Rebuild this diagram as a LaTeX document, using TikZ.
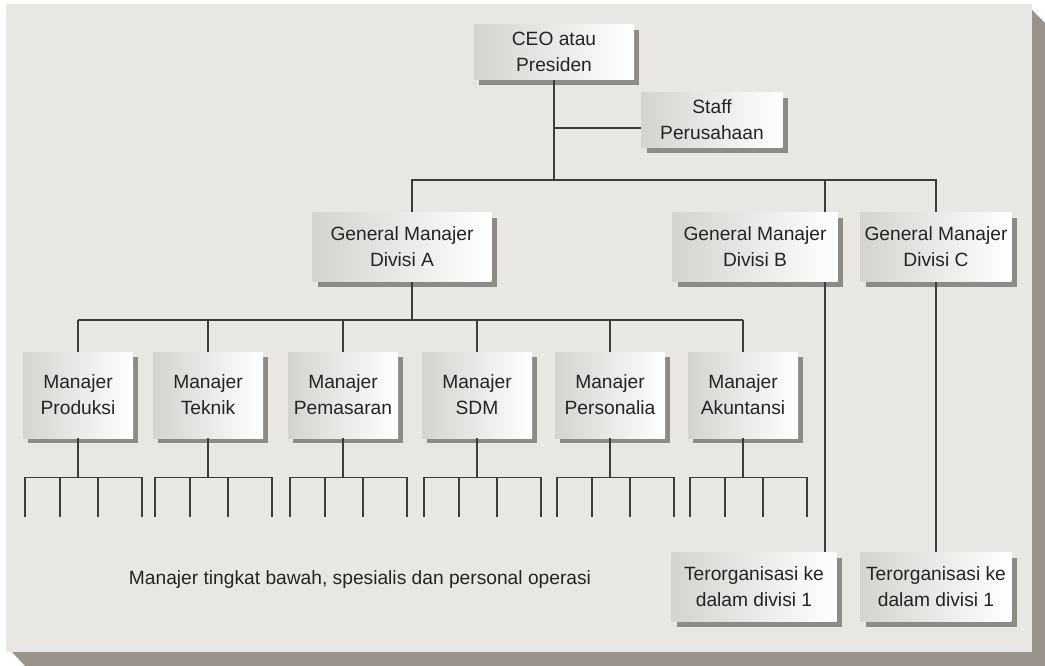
\documentclass[tikz,border=0pt]{standalone}
\usepackage{fontspec}
\setmainfont{Liberation Sans}
\usetikzlibrary{shadows}
\definecolor{panel}{HTML}{E9E7E3}
\definecolor{panelshadow}{HTML}{99938B}
\definecolor{boxshadow}{HTML}{8E8A85}
\definecolor{boxleft}{HTML}{D5D3CF}
\definecolor{ink}{HTML}{242424}
\definecolor{wirecol}{HTML}{3C3C3C}
\newcommand{\orgfont}{\fontsize{14.4}{19.5}\selectfont}

\begin{document}
\begin{tikzpicture}[x=0.75pt, y=-0.75pt,
    box/.style={left color=boxleft, right color=white, text=ink, align=center, inner sep=0pt,
      font=\orgfont, general shadow={fill=boxshadow, shadow xshift=4pt, shadow yshift=-4pt}},
    mgr/.style={box, minimum width=82.5pt, minimum height=64.5pt},
    gm/.style={box, minimum height=52pt},
    wire/.style={draw=wirecol, line width=0.8pt}]
  % panel and its shadow
  \useasboundingbox (0,0) rectangle (1045,666);
  \fill[white] (0,0) rectangle (1045,666);
  \fill[panelshadow] (1032,10) -- (1045,23) -- (1045,666) -- (25,666) -- (12,652) -- (1032,652) -- cycle;
  \fill[panel] (6,4) rectangle (1032,652);

  % top level
  \node[box, minimum width=120pt, minimum height=41pt] (ceo) at (554,52) {CEO atau\\Presiden};
  \node[box, minimum width=106pt, minimum height=41pt] (staff) at (712,120) {Staff\\Perusahaan};
  \node[gm, minimum width=134pt] (gma) at (402,247) {General Manajer\\Divisi A};
  \node[gm, minimum width=124pt] (gmb) at (755,247) {General Manajer\\Divisi B};
  \node[gm, minimum width=113pt] (gmc) at (936,247) {General Manajer\\Divisi C};
  \node[gm, minimum width=124pt] (orgb) at (754,587) {Terorganisasi ke\\dalam divisi 1};
  \node[gm, minimum width=113pt] (orgc) at (936,587) {Terorganisasi ke\\dalam divisi 1};

  \coordinate (stafftap) at (554,128);
  \coordinate (busA) at (412,180);
  \coordinate (busB) at (825,180);
  \coordinate (busC) at (936,180);
  \coordinate (busmgr) at (0,320);

  \draw[wire] (ceo.south) -- (ceo.south |- busA);
  \draw[wire] (stafftap) -- (stafftap -| staff.west);
  \draw[wire] (busA |- gma.north) -- (busA) -- (busC) -- (gmc.north);
  \draw[wire] (busB) -- (busB |- gmb.north);
  \draw[wire] (busB |- gmb.south) -- (busB |- orgb.north);
  \draw[wire] (gmc.south) -- (orgc.north);
  \draw[wire] (busA |- gma.south) -- (busA |- busmgr);

  % managers of division A
  \foreach \name/\cx/\txt in {prod/78/Produksi, tek/208/Teknik, pem/343/Pemasaran,
      sdm/477/SDM, pers/610/Personalia, akun/743/Akuntansi} {
    \node[mgr] (\name) at (\cx,395) {Manajer\\\txt};
    \draw[wire] (\name.north) -- (\name.north |- busmgr);
    \draw[wire] (\name.south) -- ++(0,39) coordinate (\name-f);
    \draw[wire] (\name-f) ++(-53,0) -- ++(117,0);
    \foreach \dx in {-53,-18,20,64}
      \draw[wire] (\name-f) ++(\dx,0) -- ++(0,40);
  }
  \draw[wire] (prod.north |- busmgr) -- (akun.north |- busmgr);

  \node[text=ink, font=\orgfont] (ops) at (360,580) {Manajer tingkat bawah, spesialis dan personal operasi};
\end{tikzpicture}
\end{document}
